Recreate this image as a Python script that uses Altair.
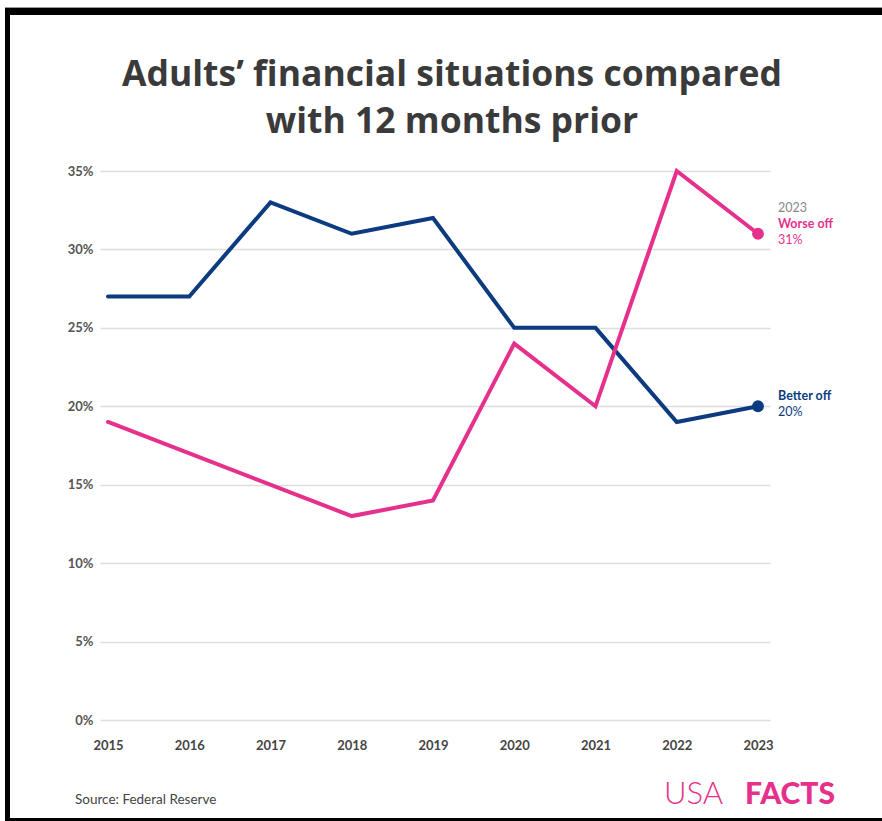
import altair as alt
import pandas as pd

years = [2015, 2016, 2017, 2018, 2019, 2020, 2021, 2022, 2023]
better_off = [27, 27, 33, 31, 32, 25, 25, 19, 20]
worse_off = [19, None, None, 13, 14, 24, 20, 35, 31]
series_names = ["Better off", "Worse off"]
series_colors = ["#0c3b80", "#e6318c"]
y_ticks = [0, 5, 10, 15, 20, 25, 30, 35]
title_lines = ["Adults\u2019 financial situations compared", "with 12 months prior"]
source_text = "Source: Federal Reserve"

rows = []
for yr, b, w in zip(years, better_off, worse_off):
    if b is not None:
        rows.append({"year": yr, "value": b, "series": "Better off"})
    if w is not None:
        rows.append({"year": yr, "value": w, "series": "Worse off"})
df = pd.DataFrame(rows)

last = df[df["year"] == years[-1]].copy()
last["pct"] = last["value"].astype(int).astype(str) + "%"

W, H = 670, 549
xscale = alt.Scale(domain=[2014.9015, 2023.1477], nice=False, zero=False)
yscale = alt.Scale(domain=[0, 35], nice=False)
color = alt.Color("series:N", scale=alt.Scale(domain=series_names, range=series_colors), legend=None)

base = alt.Chart(df)

lines = base.mark_line(strokeWidth=4, strokeJoin="miter", strokeCap="round").encode(
    x=alt.X("year:Q", scale=xscale,
            axis=alt.Axis(values=years, format="d", title=None, grid=False, domain=False,
                          ticks=False, labelFont="Lato", labelFontWeight="bold",
                          labelFontSize=13, labelColor="#444444", labelPadding=19)),
    y=alt.Y("value:Q", scale=yscale,
            axis=alt.Axis(values=y_ticks, labelExpr="datum.value + '%'", title=None,
                          grid=True, gridColor="#dddddd", gridWidth=1.5, domain=False,
                          ticks=False, labelFont="Lato", labelFontWeight="bold",
                          labelFontSize=13, labelColor="#555555", labelPadding=7)),
    color=color,
    detail="series:N",
)

dots = alt.Chart(last).mark_circle(size=140, opacity=1).encode(
    x=alt.X("year:Q", scale=xscale), y=alt.Y("value:Q", scale=yscale), color=color)

name_lbl = alt.Chart(last).mark_text(align="left", dx=20, font="Lato", fontWeight="bold", fontSize=12.5).encode(
    x=alt.X("year:Q", scale=xscale), y=alt.Y("value:Q", scale=yscale), text="series:N", color=color,
    yOffset=alt.value(-10))
pct_lbl = alt.Chart(last).mark_text(align="left", dx=20, font="Lato", fontSize=12.5).encode(
    x=alt.X("year:Q", scale=xscale), y=alt.Y("value:Q", scale=yscale), text="pct:N", color=color,
    yOffset=alt.value(6))
year_lbl = alt.Chart(last[last["series"] == "Worse off"]).mark_text(
    align="left", dx=20, font="Lato", fontSize=12.5, color="#888888").encode(
    x=alt.X("year:Q", scale=xscale), y=alt.Y("value:Q", scale=yscale), text=alt.value(str(years[-1])),
    yOffset=alt.value(-26))

one = alt.Data(values=[{"k": 1}])

def txt(text, x, y, **kw):
    return alt.Chart(one).mark_text(**kw).encode(x=alt.value(x), y=alt.value(y), text=alt.value(text))

title = txt(title_lines, 352, -85, font="Open Sans", fontWeight="bold", fontSize=35.5, color="#3a3a3a",
            align="center", baseline="alphabetic", lineHeight=47)
source = txt(source_text, -25, 629, font="Lato", fontSize=13.5, color="#444444", align="left", baseline="middle")
logo1 = txt("USA", 564, 624, font="Lato", fontWeight=300, fontSize=31, color="#e6318c", align="left", baseline="middle")
logo2 = txt("FACTS", 645, 624, font="Lato", fontWeight=900, fontSize=30, color="#e6318c", align="left", baseline="middle")

def box(x, x2, y, y2, c="black"):
    return alt.Chart(one).mark_rect(color=c).encode(
        x=alt.value(x), x2=alt.value(x2), y=alt.value(y), y2=alt.value(y2))

frame = [
    box(-95, 782, -164, -163, "#999999"),
    box(-95, 782, -163, -156),
    box(-95, -90, -163, 650),
    box(-95, 782, 647, 650),
]

chart = alt.layer(
    lines, dots, name_lbl, pct_lbl, year_lbl, title, source, logo1, logo2, *frame
).properties(
    width=W, height=H,
    autosize=alt.AutoSizeParams(type="none"),
    padding={"left": 100, "top": 171, "right": 112, "bottom": 101},
    background="white",
).configure_view(stroke=None)

chart.save("out.html", embed_options={"renderer": "svg", "actions": False})
